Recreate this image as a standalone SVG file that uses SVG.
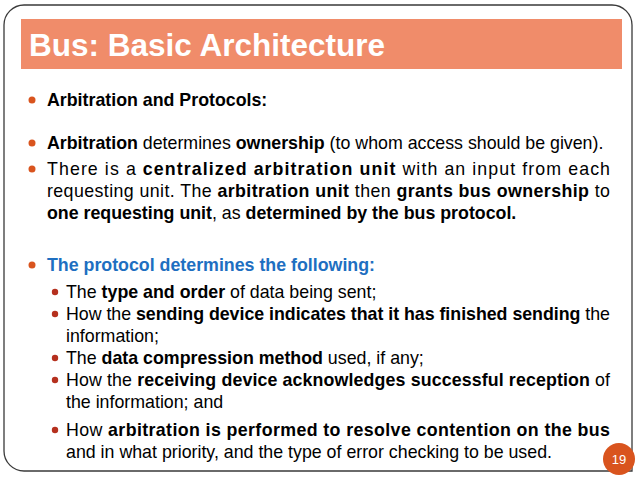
<svg xmlns="http://www.w3.org/2000/svg" width="638" height="478" viewBox="0 0 638 478">
<style>
text{font-family:"Liberation Sans",Arial,sans-serif;font-size:17.8px;fill:#000}
.b{font-weight:bold}
.blue{fill:#1E6FC1;font-weight:bold}
.d1{fill:#D9541E}
.d2{fill:#B5301E}
</style>
<rect width="638" height="478" fill="#fff"/>
<path d="M24 5 H612 A20 20 0 0 1 632 25 V471 H24 A20 20 0 0 1 4 451 V25 A20 20 0 0 1 24 5 Z" fill="none" stroke="#3a3a3a" stroke-width="1.3"/>
<g id="title">
<rect x="21" y="19" width="601" height="50" fill="#F08C6A"/>
<text x="29" y="56" style="font-size:31.5px;font-weight:bold;fill:#fff">Bus: Basic Architecture</text>
</g>
<g id="body">
<circle class="d1" cx="32" cy="100" r="3.5"/>
<text x="47" y="106" class="b">Arbitration and Protocols:</text>
<circle class="d1" cx="32" cy="143" r="3.5"/>
<text x="47" y="149"><tspan class="b">Arbitration</tspan> determines <tspan class="b">ownership</tspan> (to whom access should be given).</text>
<circle class="d1" cx="32" cy="169" r="3.5"/>
<text x="47" y="175" textLength="563" lengthAdjust="spacing">There is a <tspan class="b">centralized arbitration unit</tspan> with an input from each</text>
<text x="47" y="197" textLength="563" lengthAdjust="spacing">requesting unit. The <tspan class="b">arbitration unit</tspan> then <tspan class="b">grants bus ownership</tspan> to</text>
<text x="47" y="219"><tspan class="b">one requesting unit</tspan>, as <tspan class="b">determined by the bus protocol.</tspan></text>
<circle class="d1" cx="32" cy="265" r="3.5"/>
<text x="47" y="271" class="blue">The protocol determines the following:</text>
<circle class="d2" cx="55" cy="292" r="3.2"/>
<text x="66" y="298">The <tspan class="b">type and order</tspan> of data being sent;</text>
<circle class="d2" cx="55" cy="314" r="3.2"/>
<text x="66" y="320" textLength="544" lengthAdjust="spacing">How the <tspan class="b">sending device indicates that it has finished sending</tspan> the</text>
<text x="66" y="342">information;</text>
<circle class="d2" cx="55" cy="358" r="3.2"/>
<text x="66" y="364">The <tspan class="b">data compression method</tspan> used, if any;</text>
<circle class="d2" cx="55" cy="380" r="3.2"/>
<text x="66" y="386" textLength="544" lengthAdjust="spacing">How the <tspan class="b">receiving device acknowledges successful reception</tspan> of</text>
<text x="66" y="408">the information; and</text>
<circle class="d2" cx="55" cy="430" r="3.2"/>
<text x="66" y="436" textLength="544" lengthAdjust="spacing">How <tspan class="b">arbitration is performed to resolve contention on the bus</tspan></text>
<text x="66" y="458">and in what priority, and the type of error checking to be used.</text>
</g>
<g id="pagenum">
<circle cx="619" cy="459" r="16" fill="#D9541E"/>
<text x="619" y="464" text-anchor="middle" style="font-size:13px;fill:#fff">19</text>
</g>
</svg>
